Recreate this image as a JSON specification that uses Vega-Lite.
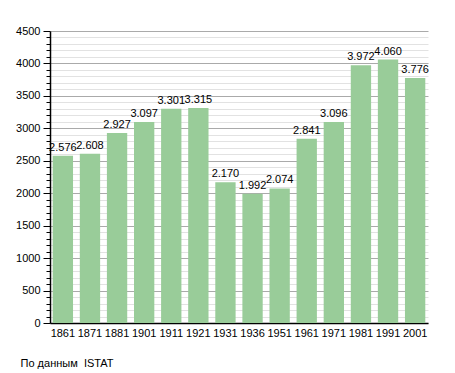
{
  "$schema": "https://vega.github.io/schema/vega-lite/v6.json",
  "width": 378,
  "height": 292,
  "autosize": {"type": "none"},
  "padding": {"left": 50, "top": 31, "right": 27, "bottom": 50},
  "config": {
    "font": "Liberation Sans",
    "view": {"stroke": null},
    "locale": {"number": {"decimal": ",", "thousands": ".", "grouping": [3], "currency": ["€", ""]}}
  },
  "title": {
    "text": "По данным \u00a0ISTAT",
    "orient": "bottom",
    "anchor": "start",
    "fontSize": 11,
    "fontWeight": "normal",
    "color": "#000",
    "offset": 20,
    "dx": 5
  },
  "data": {
    "values": [
      {"year": "1861", "pop": 2576},
      {"year": "1871", "pop": 2608},
      {"year": "1881", "pop": 2927},
      {"year": "1901", "pop": 3097},
      {"year": "1911", "pop": 3301},
      {"year": "1921", "pop": 3315},
      {"year": "1931", "pop": 2170},
      {"year": "1936", "pop": 1992},
      {"year": "1951", "pop": 2074},
      {"year": "1961", "pop": 2841},
      {"year": "1971", "pop": 3096},
      {"year": "1981", "pop": 3972},
      {"year": "1991", "pop": 4060},
      {"year": "2001", "pop": 3776}
    ]
  },
  "encoding": {
    "x": {
      "field": "year",
      "type": "ordinal",
      "sort": null,
      "scale": {"paddingInner": 0.25, "paddingOuter": 0.1},
      "axis": {
        "title": null,
        "labelAngle": 0,
        "labelFontSize": 11,
        "labelColor": "#000",
        "ticks": false,
        "labelPadding": 4,
        "domainColor": "#000",
        "domainWidth": 1.5
      }
    },
    "y": {
      "field": "pop",
      "type": "quantitative",
      "scale": {"domain": [0, 4500], "nice": false},
      "axis": {
        "title": null,
        "values": [0,100,200,300,400,500,600,700,800,900,1000,1100,1200,1300,1400,1500,1600,1700,1800,1900,2000,2100,2200,2300,2400,2500,2600,2700,2800,2900,3000,3100,3200,3300,3400,3500,3600,3700,3800,3900,4000,4100,4200,4300,4400,4500],
        "labelExpr": "datum.value % 500 === 0 ? format(datum.value, 'd') : ''",
        "labelFontSize": 11,
        "labelColor": "#000",
        "labelPadding": 3,
        "domainColor": "#000",
        "domainWidth": 1.5,
        "tickColor": "#000",
        "tickSize": {"condition": {"test": "datum.value % 500 === 0", "value": 7}, "value": 4},
        "grid": true,
        "gridColor": {"condition": {"test": "datum.value % 500 === 0", "value": "#aaaaaa"}, "value": "#e2e2e2"},
        "gridWidth": 1
      }
    }
  },
  "layer": [
    {"mark": {"type": "bar", "color": "#99cc99"}},
    {
      "mark": {"type": "text", "baseline": "bottom", "dy": -3, "fontSize": 11, "color": "#000"},
      "encoding": {"text": {"field": "pop", "type": "quantitative", "format": ",d"}}
    }
  ]
}
